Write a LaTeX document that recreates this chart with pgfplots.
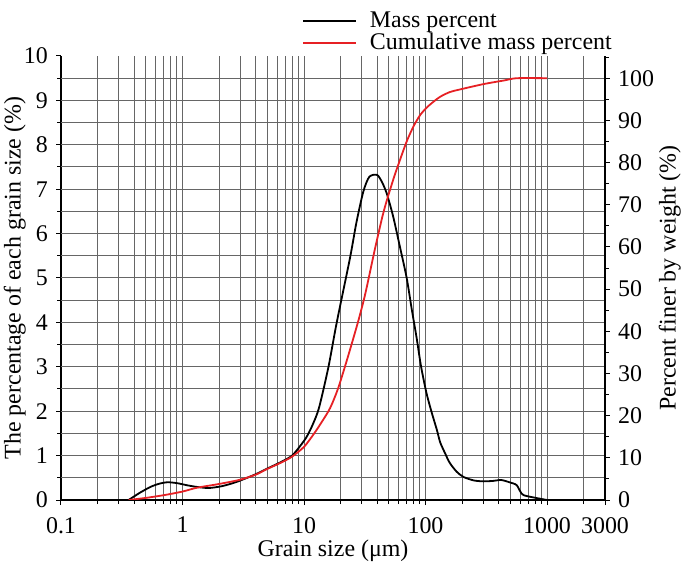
\documentclass[border=0pt]{standalone}
\usepackage{pgfplots}
\pgfplotsset{compat=1.18}
\usepackage{fontspec}
\setmainfont{Liberation Serif}
\definecolor{gridc}{gray}{0.40}
\definecolor{cred}{RGB}{230,32,36}
\begin{document}
\fontsize{24}{28}\selectfont
\begin{tikzpicture}
\pgfplotsset{
  every axis/.append style={
    scale only axis, width=544bp, height=444bp,
    xmode=log, xmin=0.1, xmax=3000,
    font=\fontsize{24}{28}\selectfont,
    /pgf/number format/assume math mode=true,
    axis line style={black, line width=1.2bp},
    tick style={black, line width=1bp},
    tick align=outside,
    major tick length=5bp, minor tick length=4bp,
  }
}
\begin{axis}[
  name=ax,
  ymin=0, ymax=10,
  axis y line*=left, axis x line*=bottom,
  xtick={0.1,1,10,100,1000,3000},
  xticklabels={0.1,1,10,100,1000,3000},
  xticklabel style={yshift=-4bp},
  minor xtick={0.2,0.3,0.4,0.5,0.6,0.7,0.8,0.9,2,3,4,5,6,7,8,9,20,30,40,50,60,70,80,90,200,300,400,500,600,700,800,900,2000},
  xmajorgrids, xminorgrids,
  ytick={0,1,2,3,4,5,6,7,8,9,10},
  minor ytick={0.5,1.5,2.5,3.5,4.5,5.5,6.5,7.5,8.5,9.5},
  extra y ticks={0.5,1,1.5,2,2.5,3,3.5,4,4.5,5,5.5,6,6.5,7,7.5,8,8.5,9,9.5},
  extra y tick labels={},
  extra y tick style={grid=major, major tick length=0pt},
  grid style={gridc, line width=1bp},
  major grid style={gridc, line width=1bp},
  minor grid style={gridc, line width=1bp},
  xlabel={Grain size (μm)},
  xlabel style={at={(axis description cs:0.5,-0.115)}, anchor=center, inner sep=0pt},
  ylabel={The percentage of each grain size (\%)},
  ylabel style={at={(axis description cs:-0.085,0.5)}, anchor=center, inner sep=0pt},
  legend style={at={(0.443,1.0)}, anchor=south west, draw=none, fill=none,
    inner sep=0pt, yshift=2bp,
    font=\fontsize{24}{28}\selectfont, row sep=0bp,
    nodes={inner sep=1bp},
    /tikz/every odd column/.append style={column sep=12bp},
    legend cell align=left},
  legend image code/.code={\draw[#1] (0bp,0bp) -- (53bp,0bp);},
]
\addplot[black, line width=1.8bp, smooth, tension=0.45] coordinates {
(0.36,0) (0.45,0.17) (0.55,0.3) (0.65,0.37) (0.75,0.40) (0.9,0.38) (1.1,0.33)
(1.35,0.29) (1.65,0.27) (2.1,0.31) (2.6,0.38) (3.0,0.44) (4.0,0.58) (5.0,0.71)
(6.3,0.84) (7.9,0.99) (9.2,1.2) (10.5,1.42) (11.8,1.7) (13.3,2.08) (15.9,3.0)
(18.6,4.0) (23.9,5.45) (27,6.25) (30.8,6.95) (34.5,7.28) (40,7.32)
(44,7.15) (48,6.9) (54,6.4) (61.6,5.7) (70,5.0) (77,4.3) (84.5,3.65) (92,3.0)
(102,2.4) (113,1.95) (124,1.58) (132,1.3) (145,1.05) (158,0.84) (180,0.64) (205,0.52)
(250,0.44) (300,0.42) (360,0.43) (420,0.45) (490,0.40) (560,0.34) (600,0.2)
(640,0.11) (800,0.05) (1000,0)
};
\addlegendentry{Mass percent}
\addlegendimage{cred, line width=1.8bp}
\addlegendentry{Cumulative mass percent}
\end{axis}
\begin{axis}[
  ymin=0, ymax=105.263,
  axis y line*=right, axis x line=none,
  ytick={0,10,20,30,40,50,60,70,80,90,100},
  minor ytick={5,15,25,35,45,55,65,75,85,95,105},
  ylabel={Percent finer by weight (\%)},
  ylabel style={at={(axis description cs:1.119,0.5)}, anchor=center, inner sep=0pt},
]
\addplot[cred, line width=1.8bp, smooth, tension=0.45] coordinates {
(0.36,0) (0.5,0.5) (0.72,1.2) (1.0,2.0) (1.31,2.9) (2.0,3.8) (2.97,4.8)
(4.0,6.0) (4.93,7.3) (6.3,8.7) (7.9,10.2) (10,12.6) (12,15.6) (14,18.5)
(16.4,21.8) (19.1,26.5) (23,34) (28,42.5) (32,49) (38,59) (44,67) (48,71)
(55,76.5) (61.6,80.6) (70,85) (79.4,88.5) (90,91.2) (102,93) (116,94.4)
(132,95.6) (158,96.7) (190,97.3) (300,98.6) (450,99.5) (565,100) (1000,100)
};
\end{axis}
\path (ax.south west) ++(-61bp,-67bp) coordinate (bbA);
\path (ax.north east) ++(80bp,56bp) coordinate (bbB);
\end{tikzpicture}
\end{document}
